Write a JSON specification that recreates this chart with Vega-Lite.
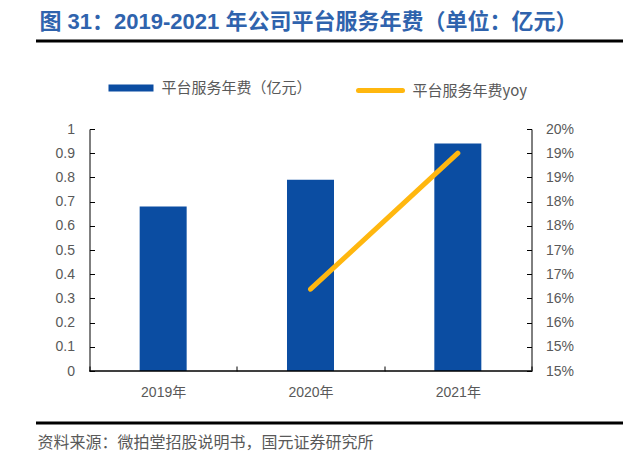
{
  "$schema": "https://vega.github.io/schema/vega-lite/v6.json",
  "padding": {"left": 35.5, "top": 10, "right": 0, "bottom": 0},
  "background": "white",
  "title": {
    "text": "图 31：2019-2021 年公司平台服务年费（单位：亿元）",
    "anchor": "start",
    "font": "'Liberation Sans', 'Noto Sans CJK SC'",
    "fontSize": 22,
    "fontWeight": "bold",
    "color": "#2F63AD",
    "offset": 6,
    "dx": 3.5
  },
  "spacing": 22,
  "vconcat": [
    {
      "width": 586,
      "height": 0.01,
      "view": {"stroke": "#000000", "strokeWidth": 3},
      "data": {"values": []},
      "mark": "rect",
      "encoding": {}
    },
    {
      "width": 586,
      "height": 242,
      "view": {"stroke": null},
      "data": {
        "values": [
          {"year": "2019年", "fee": 0.68, "yoy": null},
          {"year": "2020年", "fee": 0.79, "yoy": 0.1669},
          {"year": "2021年", "fee": 0.94, "yoy": 0.195}
        ]
      },
      "encoding": {
        "x": {
          "field": "year",
          "type": "nominal",
          "scale": {"paddingInner": 0, "paddingOuter": 0.4887, "align": 0.3611},
          "axis": {
            "title": null,
            "labelAngle": 0,
            "tickBand": "extent",
            "tickSize": -5,
            "labelPadding": 19,
            "domain": false,
            "labelFont": "'Liberation Sans', 'Noto Sans CJK SC'",
            "labelFontSize": 14,
            "labelColor": "#595959",
            "tickColor": "#000000"
          }
        }
      },
      "layer": [
        {
          "layer": [
            {
              "mark": {"type": "bar", "width": 47},
              "encoding": {
                "y": {
                  "field": "fee",
                  "type": "quantitative",
                  "scale": {"domain": [0, 1]},
                  "axis": {
                    "orient": "left",
                    "offset": -52,
                    "tickCount": 10,
                    "format": ".1~f",
                    "grid": false,
                    "tickSize": -5,
                    "labelPadding": 20,
                    "labelFont": "Liberation Sans",
                    "labelFontSize": 14,
                    "labelColor": "#595959",
                    "domainColor": "#000000",
                    "tickColor": "#000000",
                    "title": null
                  }
                },
                "fill": {
                  "datum": "平台服务年费（亿元）",
                  "type": "nominal",
                  "scale": {"range": ["#0B4DA2"]},
                  "legend": {
                    "title": null,
                    "orient": "none",
                    "legendX": 71,
                    "legendY": -63.5,
                    "padding": 0,
                    "symbolType": "M-1,-0.155H1V0.155H-1Z",
                    "symbolSize": 2025,
                    "symbolStrokeWidth": 0,
                    "labelOffset": 8,
                    "labelFont": "Noto Sans CJK SC",
                    "labelFontSize": 15,
                    "labelColor": "#595959"
                  }
                }
              }
            },
            {
              "mark": {"type": "rect", "fill": null, "stroke": "#000000", "strokeWidth": 1},
              "encoding": {
                "y": {"datum": 0, "type": "quantitative", "title": null},
                "y2": {"datum": 0}
              }
            }
          ]
        },
        {
          "mark": {"type": "line", "strokeWidth": 5, "strokeCap": "round"},
          "encoding": {
            "y": {
              "field": "yoy",
              "type": "quantitative",
              "scale": {"domain": [0.15, 0.2]},
              "axis": {
                "orient": "right",
                "offset": -92,
                "values": [0.15, 0.155, 0.16, 0.165, 0.17, 0.175, 0.18, 0.185, 0.19, 0.195, 0.2],
                "labelExpr": "floor(datum.value*100+0.001)+'%'",
                "grid": false,
                "tickSize": -5,
                "labelPadding": 19,
                "labelFont": "Liberation Sans",
                "labelFontSize": 14,
                "labelColor": "#595959",
                "domainColor": "#000000",
                "tickColor": "#000000",
                "title": null
              }
            },
            "stroke": {
              "datum": "平台服务年费yoy",
              "type": "nominal",
              "scale": {"range": ["#FFB70F"]},
              "legend": {
                "title": null,
                "orient": "none",
                "legendX": 318.5,
                "legendY": -63,
                "padding": 0,
                "symbolType": "stroke",
                "symbolSize": 1936,
                "symbolStrokeWidth": 5,
                "labelOffset": 7.5,
                "labelFont": "Noto Sans CJK SC",
                "labelFontSize": 15,
                "labelColor": "#595959",
                "encode": {"symbols": {"update": {"strokeCap": {"value": "round"}}}}
              }
            }
          }
        }
      ],
      "resolve": {"scale": {"y": "independent", "fill": "independent", "stroke": "independent"}}
    },
    {
      "width": 586,
      "height": 0.01,
      "view": {"stroke": "#000000", "strokeWidth": 3},
      "data": {"values": []},
      "mark": "rect",
      "encoding": {},
      "title": {
        "text": "资料来源：微拍堂招股说明书，国元证券研究所",
        "orient": "bottom",
        "anchor": "start",
        "font": "Noto Sans CJK SC",
        "fontSize": 16,
        "fontWeight": "normal",
        "color": "#595959",
        "offset": 12
      }
    }
  ],
  "config": {
    "view": {"stroke": null},
    "axis": {"domainWidth": 1, "tickWidth": 1}
  }
}
